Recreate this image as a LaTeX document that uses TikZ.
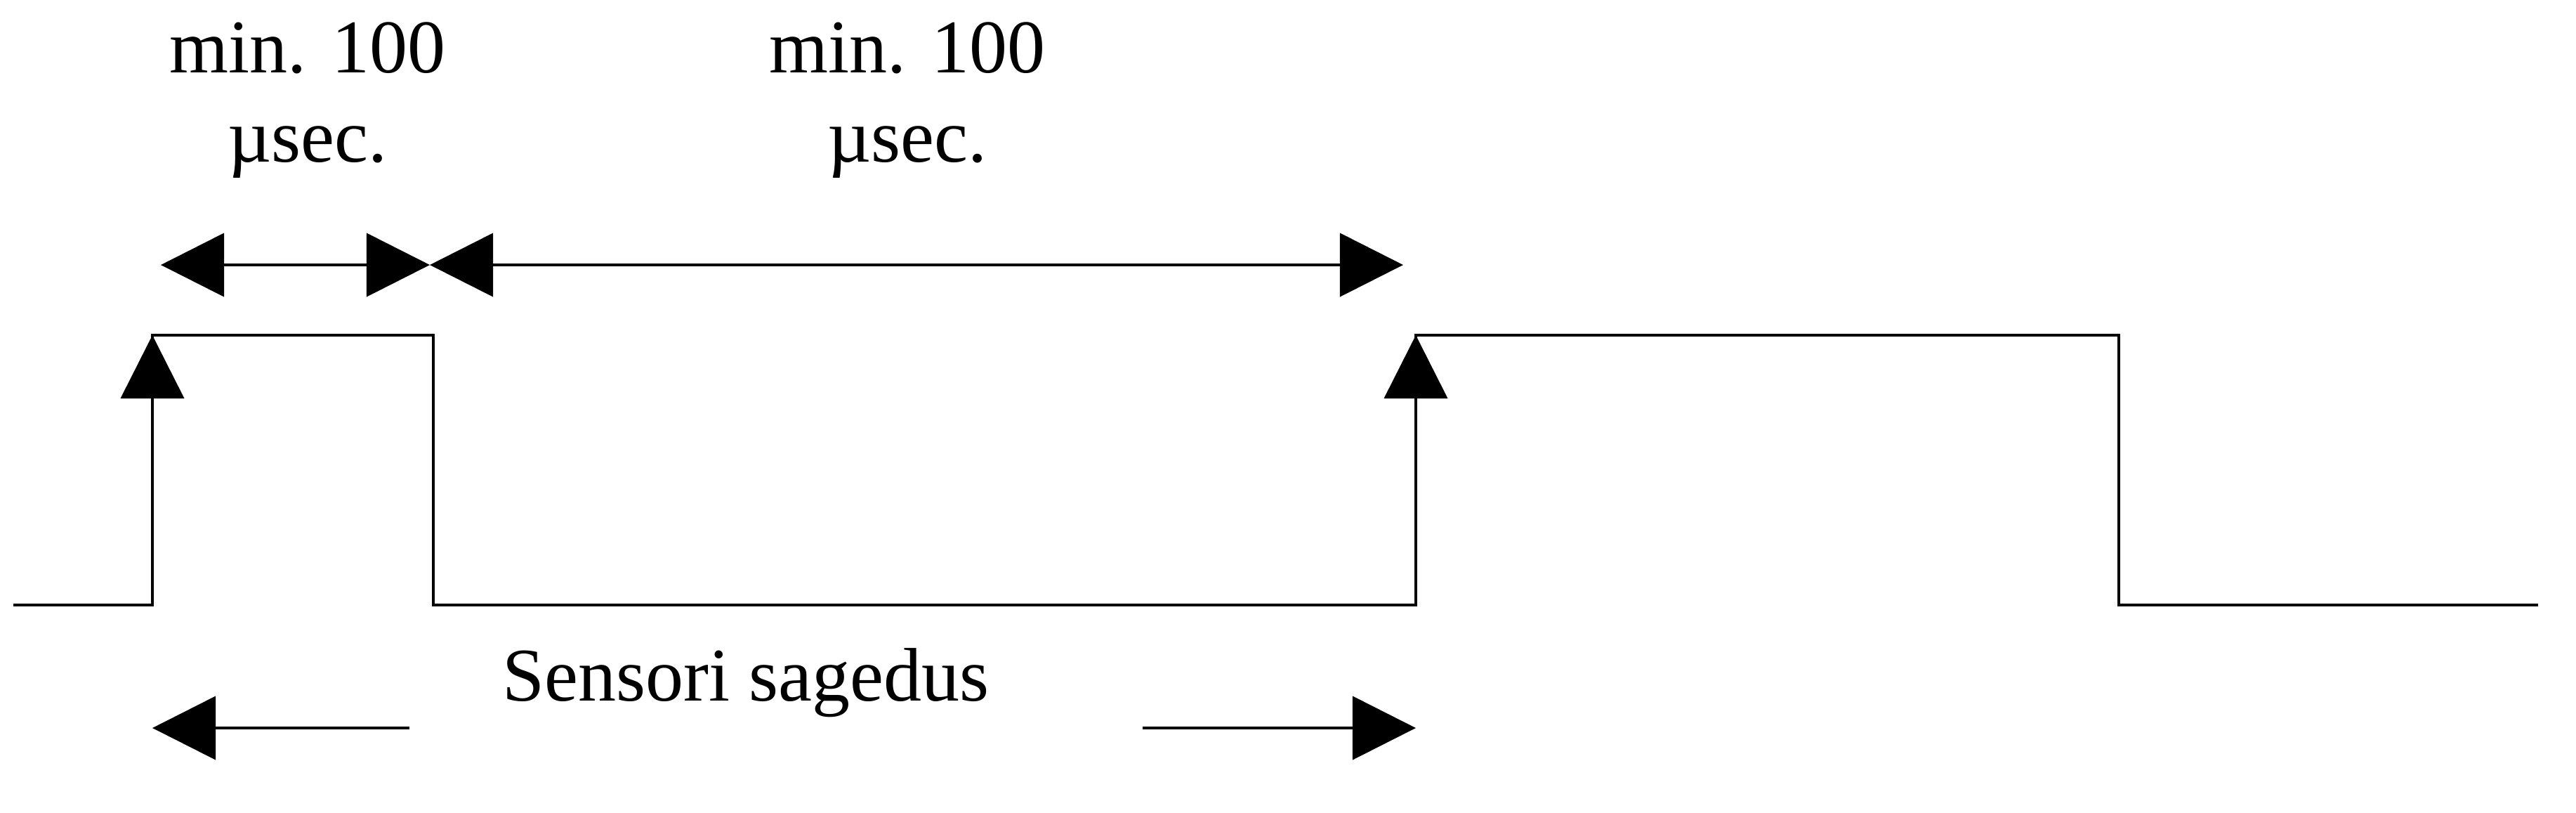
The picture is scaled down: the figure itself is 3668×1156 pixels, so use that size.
\documentclass[tikz,border=0pt]{standalone}
\usepackage{fontspec}
\setmainfont{Liberation Serif}
\usepackage{tikz}
\usetikzlibrary{arrows.meta,positioning}
\tikzset{
  sig/.style={line width=1.1pt,line join=miter},
  dimarrow/.style={line width=1.1pt,-{Triangle[length=0.9cm,width=0.9cm]}},
  lbl/.style={font=\fontsize{30.7}{36}\selectfont,anchor=base,inner sep=0pt},
}
\newcommand{\minlabel}[2]{%
  \node[lbl] (#1min) at (#2,103) {min. 100};%
  \node[lbl] (#1usec) at (#2,230) {µsec.};%
}

\begin{document}
\begin{tikzpicture}[x=0.01cm,y=-0.01cm]
  \useasboundingbox (0,0) rectangle (3668,1156);
  % waveform corners
  \coordinate (start) at (19,861);
  \coordinate (r1lo) at (217,861);
  \coordinate (r1hi) at (217,477);
  \coordinate (f1hi) at (617,477);
  \coordinate (f1lo) at (617,861);
  \coordinate (r2lo) at (2016,861);
  \coordinate (r2hi) at (2016,477);
  \coordinate (f2hi) at (3017,477);
  \coordinate (f2lo) at (3017,861);
  \coordinate (stop) at (3614,861);
  \draw[sig] (start) -- (r1lo) -- (r1hi) -- (f1hi) -- (f1lo) -- (r2lo) -- (r2hi) -- (f2hi) -- (f2lo) -- (stop);
  \draw[dimarrow] (r1lo) -- (r1hi);
  \draw[dimarrow] (r2lo) -- (r2hi);
  % min. 100 usec. spans
  \coordinate (aL) at (229,377);
  \coordinate (aM) at (612,377);
  \coordinate (aR) at (1998,377);
  \draw[dimarrow,{Triangle[length=0.9cm,width=0.9cm]}-{Triangle[length=0.9cm,width=0.9cm]}] (aL) -- (aM);
  \draw[dimarrow,{Triangle[length=0.9cm,width=0.9cm]}-{Triangle[length=0.9cm,width=0.9cm]}] (aM) -- (aR);
  \minlabel{hi}{438}
  \minlabel{lo}{1292}
  % sensor period
  \node[lbl] (freq) at (1062,997) {Sensori sagedus};
  \coordinate (pL) at (217,1036);
  \coordinate (pLt) at (583,1036);
  \coordinate (pRt) at (1627,1036);
  \coordinate (pR) at (2016,1036);
  \draw[dimarrow] (pLt) -- (pL);
  \draw[dimarrow] (pRt) -- (pR);
\end{tikzpicture}
\end{document}
